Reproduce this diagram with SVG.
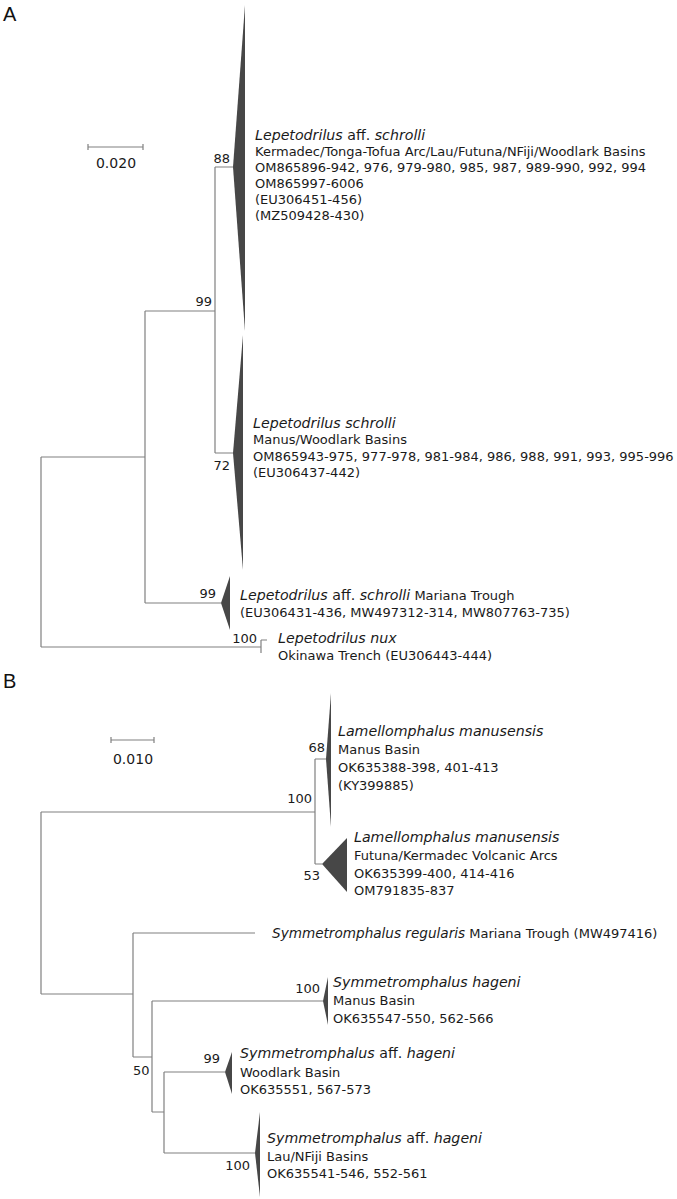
<svg xmlns="http://www.w3.org/2000/svg" width="677" height="1199" viewBox="0 0 677 1199">
<style>
.br{fill:none;stroke:#808080;stroke-width:1.2}
.tri{fill:#474747;stroke:none}
.t{font-family:"DejaVu Sans",Verdana,sans-serif;font-size:13px;fill:#1a1a1a}
.it{font-style:italic;font-size:14.2px}
.sp{font-size:14.2px}
.n{font-family:"DejaVu Sans",Verdana,sans-serif;font-size:13px;fill:#1a1a1a}
.sc{font-family:"DejaVu Sans",Verdana,sans-serif;font-size:14px;fill:#1a1a1a}
.pl{font-family:"Liberation Sans",Arial,sans-serif;font-size:20px;fill:#111}
.bar{fill:none;stroke:#808080;stroke-width:1.2}
</style>
<rect width="677" height="1199" fill="#fff"/>
<text class="pl" x="3" y="21">A</text>
<text class="pl" x="3" y="688">B</text>
<g id="scaleA">
<path class="bar" d="M88 147H143M88 144V150M143 144V150"/>
<text class="sc" x="116" y="168" text-anchor="middle">0.020</text>
</g>
<g id="scaleB">
<path class="bar" d="M111 740H154M111 737V743M154 737V743"/>
<text class="sc" x="133" y="764" text-anchor="middle">0.010</text>
</g>
<g id="connectors">
<path class="br" d="M215 167H233M215 167V453M215 453H233M145 311H215M145 311V603M145 603H221M41 457H145M41 457V647M41 647H261M261 640V653M261 640H267"/>
<path class="br" d="M41 812H315M315 759V864M315 759H326M315 864H322M41 812V994M41 994H133M133 933V1057M133 933H255M133 1057H152M152 1001V1112M152 1001H323M152 1112H164M164 1072V1153M164 1072H225M164 1153H255"/>
</g>
<g id="support">
<text class="n" x="230" y="163" text-anchor="end">88</text>
<text class="n" x="212" y="306" text-anchor="end">99</text>
<text class="n" x="230" y="470" text-anchor="end">72</text>
<text class="n" x="216" y="598" text-anchor="end">99</text>
<text class="n" x="257" y="643" text-anchor="end">100</text>
<text class="n" x="325" y="752" text-anchor="end">68</text>
<text class="n" x="312" y="803" text-anchor="end">100</text>
<text class="n" x="320" y="880" text-anchor="end">53</text>
<text class="n" x="320" y="993" text-anchor="end">100</text>
<text class="n" x="133" y="1075">50</text>
<text class="n" x="220" y="1063" text-anchor="end">99</text>
<text class="n" x="250" y="1170" text-anchor="end">100</text>
</g>
<g id="clade-aff-schrolli">
<polygon class="tri" points="233,167 245,5 245,331"/>
<text class="t" x="255" y="140"><tspan class="it">Lepetodrilus</tspan><tspan class="sp"> aff. </tspan><tspan class="it">schrolli</tspan></text>
<text class="t" x="255" y="156">Kermadec/Tonga-Tofua Arc/Lau/Futuna/NFiji/Woodlark Basins</text>
<text class="t" x="255" y="172">OM865896-942, 976, 979-980, 985, 987, 989-990, 992, 994</text>
<text class="t" x="255" y="188">OM865997-6006</text>
<text class="t" x="255" y="204">(EU306451-456)</text>
<text class="t" x="255" y="220">(MZ509428-430)</text>
</g>
<g id="clade-schrolli">
<polygon class="tri" points="233,453 243,335 243,570"/>
<text class="t it" x="253" y="428">Lepetodrilus schrolli</text>
<text class="t" x="253" y="444">Manus/Woodlark Basins</text>
<text class="t" x="253" y="461">OM865943-975, 977-978, 981-984, 986, 988, 991, 993, 995-996</text>
<text class="t" x="253" y="477">(EU306437-442)</text>
</g>
<g id="clade-mariana">
<polygon class="tri" points="221,603 230,576 230,630"/>
<text class="t" x="240" y="600"><tspan class="it">Lepetodrilus</tspan><tspan class="sp"> aff. </tspan><tspan class="it">schrolli</tspan> Mariana Trough</text>
<text class="t" x="240" y="617">(EU306431-436, MW497312-314, MW807763-735)</text>
</g>
<g id="clade-nux">
<text class="t it" x="278" y="643">Lepetodrilus nux</text>
<text class="t" x="278" y="660">Okinawa Trench (EU306443-444)</text>
</g>
<g id="clade-lam-manus">
<polygon class="tri" points="326,759 331,693 331,827"/>
<text class="t it" x="338" y="736">Lamellomphalus manusensis</text>
<text class="t" x="338" y="754">Manus Basin</text>
<text class="t" x="338" y="772">OK635388-398, 401-413</text>
<text class="t" x="338" y="790">(KY399885)</text>
</g>
<g id="clade-lam-futuna">
<polygon class="tri" points="322,864 347,838 347,892"/>
<text class="t it" x="354" y="842">Lamellomphalus manusensis</text>
<text class="t" x="354" y="860">Futuna/Kermadec Volcanic Arcs</text>
<text class="t" x="354" y="878">OK635399-400, 414-416</text>
<text class="t" x="354" y="895">OM791835-837</text>
</g>
<g id="tip-regularis">
<text class="t" x="272" y="938"><tspan class="it" style="font-size:13.6px">Symmetromphalus regularis</tspan> Mariana Trough (MW497416)</text>
</g>
<g id="clade-hageni">
<polygon class="tri" points="323,1001 328,977 328,1025"/>
<text class="t it" x="333" y="987">Symmetromphalus hageni</text>
<text class="t" x="333" y="1005">Manus Basin</text>
<text class="t" x="333" y="1023">OK635547-550, 562-566</text>
</g>
<g id="clade-aff-hageni-woodlark">
<polygon class="tri" points="225,1072 232,1052 232,1094"/>
<text class="t" x="240" y="1058"><tspan class="it">Symmetromphalus</tspan><tspan class="sp"> aff. </tspan><tspan class="it">hageni</tspan></text>
<text class="t" x="240" y="1077">Woodlark Basin</text>
<text class="t" x="240" y="1094">OK635551, 567-573</text>
</g>
<g id="clade-aff-hageni-lau">
<polygon class="tri" points="255,1153 260,1112 260,1197"/>
<text class="t" x="267" y="1143"><tspan class="it">Symmetromphalus</tspan><tspan class="sp"> aff. </tspan><tspan class="it">hageni</tspan></text>
<text class="t" x="267" y="1161">Lau/NFiji Basins</text>
<text class="t" x="267" y="1178">OK635541-546, 552-561</text>
</g>
</svg>
